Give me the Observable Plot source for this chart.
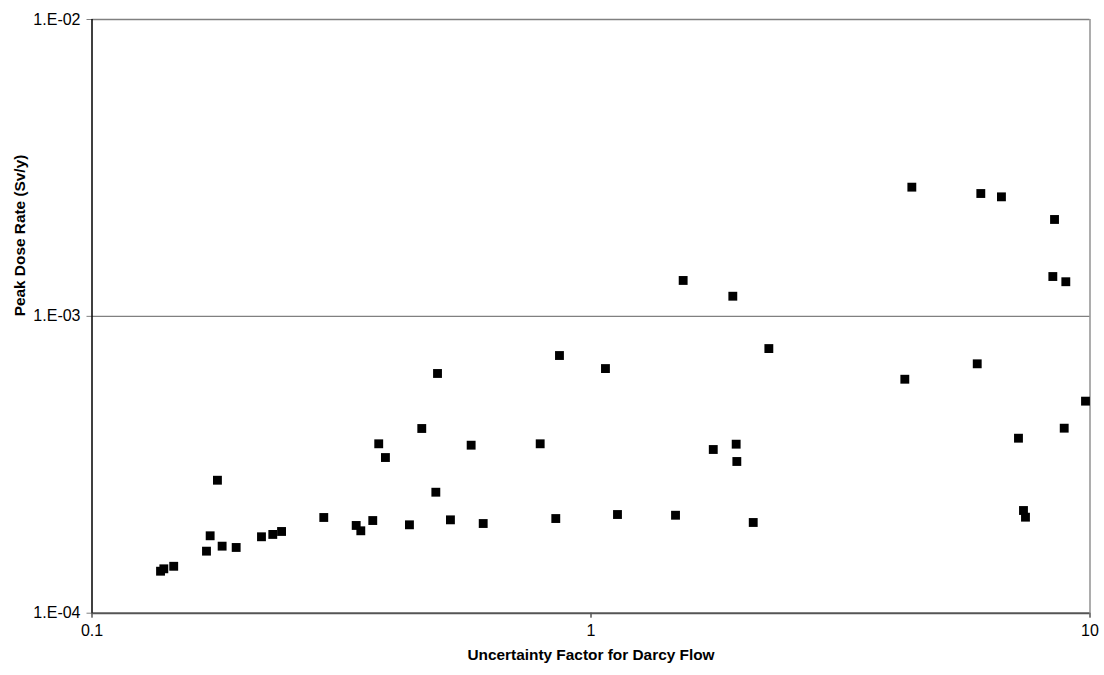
<!DOCTYPE html>
<html>
<head>
<meta charset="utf-8">
<script src="https://cdn.jsdelivr.net/npm/d3@7"></script>
<script src="https://cdn.jsdelivr.net/npm/@observablehq/plot@0.6"></script>
<style>
  html, body { margin: 0; padding: 0; background: white; }
</style>
</head>
<body>
<div id="chart"></div>
<script>
const darcyFactor = [
  0.1372, 0.1393, 0.1458, 0.1696, 0.1725, 0.1784, 0.1823, 0.1945, 0.2186, 0.2303,
  0.2398, 0.2914, 0.3384, 0.3457, 0.3653, 0.3755, 0.3873, 0.4327, 0.4580, 0.4887,
  0.4925, 0.5228, 0.5752, 0.6081, 0.791, 0.850, 0.8646, 1.069, 1.130, 1.477,
  1.530, 1.758, 1.924, 1.954, 1.960, 2.114, 2.272, 4.255, 4.395, 5.943,
  6.042, 6.646, 7.189, 7.357, 7.425, 8.424, 8.490, 8.878, 8.944, 9.795
];
const peakDose = [
  1.385e-4, 1.411e-4, 1.439e-4, 1.618e-4, 1.823e-4, 2.805e-4, 1.682e-4, 1.665e-4, 1.809e-4, 1.842e-4,
  1.885e-4, 2.101e-4, 1.975e-4, 1.895e-4, 2.052e-4, 3.721e-4, 3.345e-4, 1.985e-4, 4.19e-4, 2.556e-4,
  6.42e-4, 2.063e-4, 3.681e-4, 2.005e-4, 3.721e-4, 2.084e-4, 7.38e-4, 6.67e-4, 2.150e-4, 2.138e-4,
  1.321e-3, 3.56e-4, 1.169e-3, 3.71e-4, 3.244e-4, 2.021e-4, 7.79e-4, 6.14e-4, 2.724e-3, 6.92e-4,
  2.593e-3, 2.527e-3, 3.886e-4, 2.218e-4, 2.106e-4, 1.362e-3, 2.120e-3, 4.20e-4, 1.308e-3, 5.18e-4
];
const xTicks = [0.1, 1, 10];
const yTicks = [1e-4, 1e-3, 1e-2];
const yGrid = [1e-3, 1e-2];
const xTitle = "Uncertainty Factor for Darcy Flow";
const yTitle = "Peak Dose Rate (Sv/y)";

const data = darcyFactor.map((x, i) => ({x, y: peakDose[i]}));
const yFormat = d => "1.E-" + String(Math.round(-Math.log10(d))).padStart(2, "0");
const xFormat = d => String(d);

const chart = Plot.plot({
  width: 1104,
  height: 675,
  marginLeft: 91.5,
  marginRight: 14.5,
  marginTop: 19,
  marginBottom: 62.3,
  style: {fontFamily: "'Liberation Sans', Arial, sans-serif", fontSize: "15px", background: "white", color: "black"},
  x: {type: "log", domain: [0.1, 10]},
  y: {type: "log", domain: [1e-4, 1e-2]},
  marks: [
    Plot.ruleY(yGrid, {stroke: "#808080", strokeWidth: 1.3}),
    Plot.ruleX([10], {stroke: "#808080", strokeWidth: 1.3}),
    Plot.axisY(yTicks, {tickSize: 5, tickFormat: () => "", stroke: "#808080", label: null}),
    Plot.axisX(xTicks, {tickSize: 5, tickFormat: () => "", stroke: "black", label: null}),
    Plot.text(yTicks, {y: d => d, text: yFormat, frameAnchor: "left", dx: -11.5, textAnchor: "end", fontSize: 16, fill: "black"}),
    Plot.text(xTicks, {x: d => d, text: xFormat, frameAnchor: "bottom", dy: 22.5, fontSize: 16, fill: "black"}),
    Plot.ruleY([1e-4], {stroke: "#555555", strokeWidth: 2}),
    Plot.ruleX([0.1], {stroke: "black", strokeWidth: 1.5}),
    Plot.dot(data, {x: "x", y: "y", symbol: "square", r: 5, fill: "black", stroke: "none"}),
    Plot.text([xTitle], {text: d => d, frameAnchor: "bottom", dy: 47, fontWeight: "bold", fontSize: 15.4, fill: "black"}),
    Plot.text([yTitle], {text: d => d, frameAnchor: "left", dx: -72, rotate: -90, fontWeight: "bold", fontSize: 15.4, fill: "black"})
  ]
});
document.getElementById("chart").appendChild(chart);
</script>
</body>
</html>
